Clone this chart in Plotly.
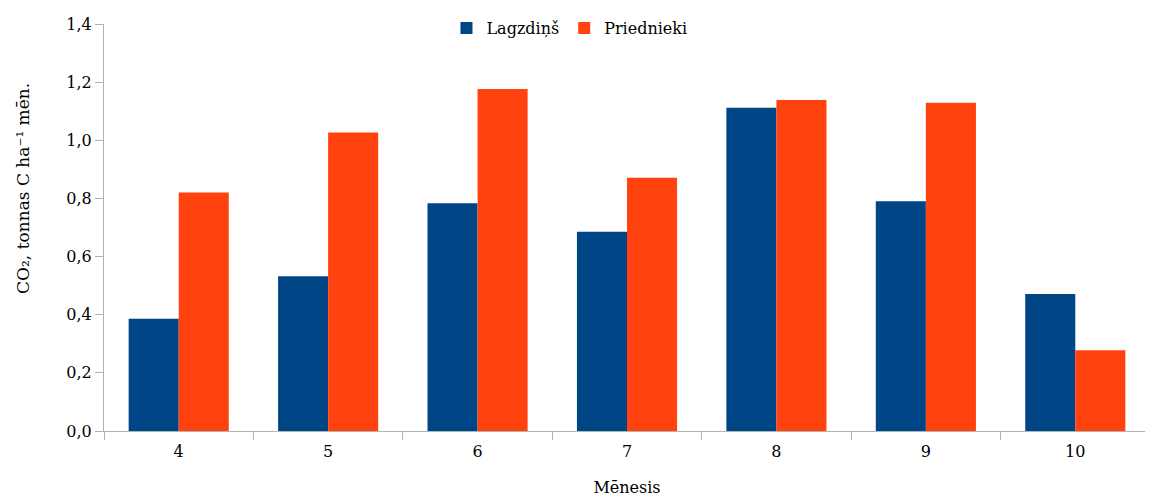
import plotly.graph_objects as go

months = ["4", "5", "6", "7", "8", "9", "10"]
lagzdins = [0.386, 0.532, 0.783, 0.685, 1.112, 0.790, 0.471]
priednieki = [0.820, 1.027, 1.176, 0.871, 1.139, 1.129, 0.278]
series_names = ["Lagzdiņš", "Priednieki"]
colors = ["#004586", "#FF420E"]
y_title = "CO₂, tonnas C ha⁻¹ mēn."
x_title = "Mēnesis"

font_family = "DejaVu Serif"

fig = go.Figure()
fig.add_trace(go.Bar(x=months, y=lagzdins, name=series_names[0], marker_color=colors[0], marker_line_width=0))
fig.add_trace(go.Bar(x=months, y=priednieki, name=series_names[1], marker_color=colors[1], marker_line_width=0))

fig.update_layout(
    width=1145, height=489,
    margin=dict(l=96, r=3, t=10, b=66),
    paper_bgcolor="white", plot_bgcolor="white",
    barmode="group", bargap=0.33, bargroupgap=0,
    separators=",.",
    font=dict(family=font_family, size=16, color="#000"),
    legend=dict(orientation="h", x=0.445, xanchor="center", y=0.99, yanchor="middle",
                font=dict(family=font_family, size=16), bgcolor="rgba(0,0,0,0)", itemwidth=30, traceorder="normal"),
    showlegend=True,
)
fig.add_annotation(text=y_title, textangle=-90, xref="paper", yref="paper",
                   x=-0.077, y=0.596, xanchor="center", yanchor="middle", showarrow=False,
                   font=dict(family=font_family, size=17, color="#000"))
fig.update_yaxes(range=[0, 1.4], dtick=0.2, tickformat=".1f", showgrid=False, zeroline=False,
                 showline=True, linecolor="#b3b3b3", linewidth=1,
                 ticks="outside", ticklen=8, tickcolor="#b3b3b3",
                 tickfont=dict(family=font_family, size=16))
fig.update_xaxes(showgrid=False, showline=True, linecolor="#b3b3b3", linewidth=1,
                 ticks="outside", ticklen=8, tickcolor="#b3b3b3", tickson="boundaries",
                 ticklabelstandoff=6,
                 title=dict(text=x_title, font=dict(family=font_family, size=16), standoff=22),
                 tickfont=dict(family=font_family, size=16))

fig.write_html("out.html")
